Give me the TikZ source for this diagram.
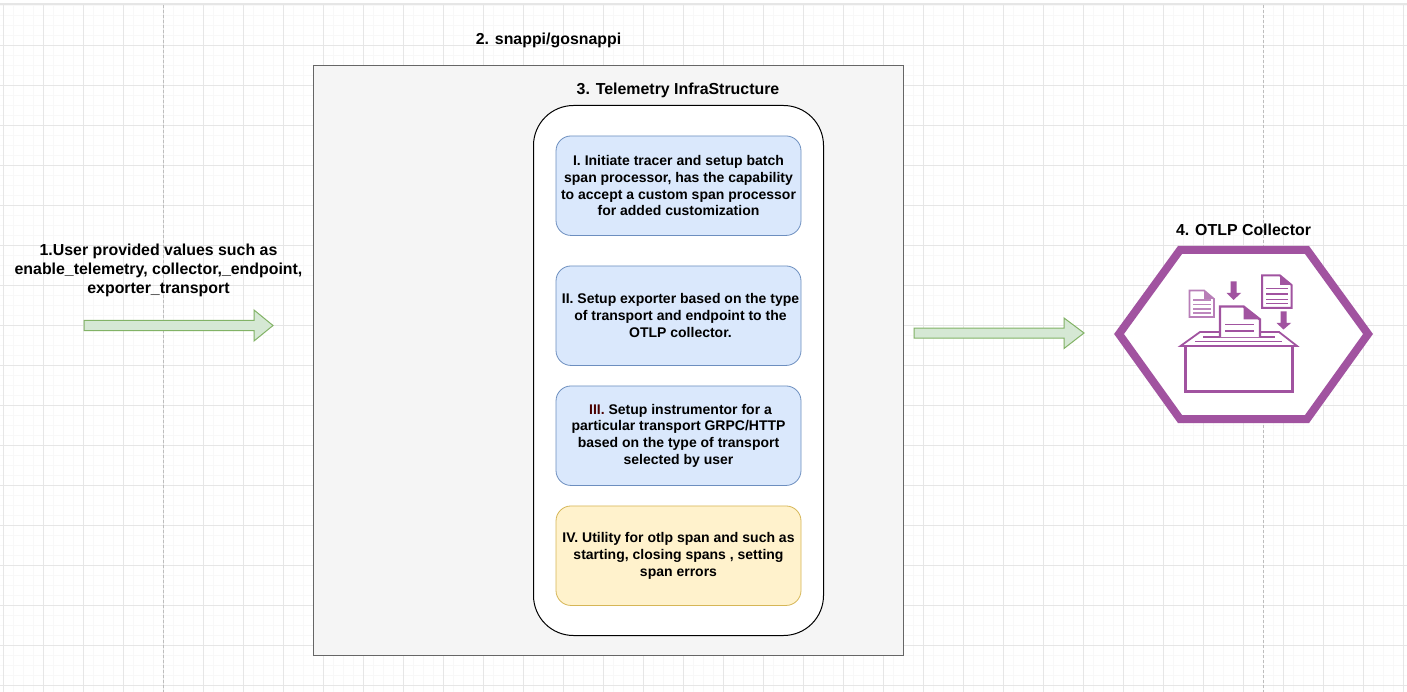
\documentclass[tikz,border=0pt]{standalone}
\usepackage{fontspec}
\setmainfont{Liberation Sans}
\usetikzlibrary{calc}
\definecolor{gridmaj}{HTML}{E6E6E6}
\definecolor{gridmin}{HTML}{F8F8F8}
\definecolor{dashgray}{HTML}{BDBDBD}
\definecolor{outerfill}{HTML}{F5F5F5}
\definecolor{outerline}{HTML}{666666}
\definecolor{bluefill}{HTML}{DAE8FC}
\definecolor{blueline}{HTML}{6C8EBF}
\definecolor{yelfill}{HTML}{FFF2CC}
\definecolor{yelline}{HTML}{D6B656}
\definecolor{grnfill}{HTML}{D5E8D4}
\definecolor{grnline}{HTML}{82B366}
\definecolor{purp}{HTML}{A153A0}
\definecolor{maroon}{HTML}{4A0000}
\tikzset{
  lbl/.style={font=\bfseries\fontsize{15.9}{19}\selectfont,align=center,inner sep=0pt,text=black},
  boxlbl/.style={font=\bfseries\fontsize{14}{16.8}\selectfont,align=center,inner sep=0pt,text=black},
  stepbox/.style={boxlbl,draw=blueline,fill=bluefill,rounded corners=15pt,minimum width=245pt,minimum height=99.5pt,line width=.8pt},
  utilbox/.style={stepbox,draw=yelline,fill=yelfill},
  blockarrow/.style={draw=grnline,fill=grnfill,line width=1pt,line join=miter},
  ic/.style={draw=purp,line width=2.4pt,fill=white,line join=miter},
  icl/.style={draw=purp,line width=1.2pt},
}
\begin{document}
\begin{tikzpicture}[x=1pt,y=-1pt]
\useasboundingbox (0,0) rectangle (1407,692);
\fill[white] (0,0) rectangle (1407,692);
% top bar
\fill[gridmaj] (0,3) rectangle (1407,5);
% grid
\foreach \k in {0,...,140}{\draw[gridmin,line width=.8pt] ({3.5+10*\k},5) -- ({3.5+10*\k},692);}
\foreach \k in {0,...,68}{\draw[gridmin,line width=.8pt] (0,{5+10*\k}) -- (1407,{5+10*\k});}
\foreach \k in {0,...,35}{\draw[gridmaj,line width=.8pt] ({3.5+40*\k},5) -- ({3.5+40*\k},692);}
\foreach \k in {1,...,17}{\draw[gridmaj,line width=.8pt] (0,{5+40*\k}) -- (1407,{5+40*\k});}
\draw[dashgray,line width=.8pt,dash pattern=on 3pt off 2pt] (163.5,5) -- (163.5,692);
\draw[dashgray,line width=.8pt,dash pattern=on 3pt off 2pt] (1263.5,5) -- (1263.5,692);
% containers
\node[draw=outerline,fill=outerfill,line width=.9pt,minimum width=590pt,minimum height=590pt,inner sep=0pt] (infra) at (608.5,360.5) {};
\node[draw=black,fill=white,line width=1pt,rounded corners=40pt,minimum width=290pt,minimum height=530pt,inner sep=0pt] (telemetry) at (678.5,370.5) {};
\node[stepbox] (s1) at (678.5,185.7) {I. Initiate tracer and setup batch\\span processor, has the capability\\to accept a custom span processor\\for added customization};
\node[stepbox] (s2) at (678.5,315.7) {\hspace*{4pt}II. Setup exporter based on the type\\\hspace*{4pt}of transport and endpoint to the\\\hspace*{4pt}OTLP collector.};
\node[stepbox] (s3) at (678.5,435.7) {\hspace*{4pt}\textcolor{maroon}{III.} Setup instrumentor for a\\particular transport GRPC/HTTP\\based on the type of transport\\selected by user};
\node[utilbox] (s4) at (678.5,555.7) {IV. Utility for otlp span and such as\\starting, closing spans , setting\\span errors};
% labels
\node[lbl] (l1) at (158.5,270.5) {1.User provided values such as\\enable\_telemetry, collector,\_endpoint,\\exporter\_transport};
\node[lbl] (l2) at (548.5,40) {2. snappi/gosnappi};
\node[lbl] (l3) at (678,90) {3. Telemetry InfraStructure};
\node[lbl] (l4) at (1243.5,230) {4. OTLP Collector};
% arrows
\draw[blockarrow] (84,320.5) -- (254,320.5) -- (254,310) -- (273,325.5) -- (254,341) -- (254,330.5) -- (84,330.5) -- cycle;
\draw[blockarrow] (914,328) -- (1064,328) -- (1064,318) -- (1084,333) -- (1064,348.5) -- (1064,338) -- (914,338) -- cycle;
% hexagon
\draw[purp,line width=8pt,line join=miter,fill=white] (1119,334) -- (1180,250) -- (1307,250) -- (1368,334) -- (1307,419) -- (1180,419) -- cycle;
% icon: box
\draw[ic] (1185.5,346) rectangle (1292.5,391.5);
\draw[ic,line width=1.8pt] (1180.5,346) -- (1200,332) -- (1279,332) -- (1297,346) -- cycle;
\draw[icl] (1195,341.5) -- (1282,341.5);
\draw[icl] (1203,337) -- (1275,337);
% centre sheet
\draw[ic] (1220,337) -- (1220,306.5) -- (1243.5,306.5) -- (1260,319.5) -- (1260,337);
\fill[purp] (1243.5,306.5) -- (1260,319.5) -- (1243.5,319.5) -- cycle;
\draw[icl] (1225,324.5) -- (1254,324.5);
\draw[icl] (1225,331) -- (1254,331);
% left sheet
\draw[ic,line width=1.8pt,draw=purp!75] (1189.5,290.5) -- (1204,290.5) -- (1214,299) -- (1214,317) -- (1189.5,317) -- cycle;
\fill[purp!75] (1204,290.5) -- (1214,299) -- (1204,299) -- cycle;
\foreach \yy in {300,304.5,309,313}{\draw[icl,draw=purp!70] (1193,\yy) -- (1211,\yy);}
% right sheet
\draw[ic,line width=2pt] (1262,275.5) -- (1280,275.5) -- (1291.5,285) -- (1291.5,308) -- (1262,308) -- cycle;
\fill[purp] (1280,275.5) -- (1291.5,285) -- (1280,285) -- cycle;
\foreach \yy in {288.5,294,299.5,303.5}{\draw[icl] (1266,\yy) -- (1287.5,\yy);}
% small arrows
\fill[purp] (1230.5,281.5) -- (1236.5,281.5) -- (1236.5,293) -- (1241,293) -- (1233.5,300) -- (1226.5,293) -- (1230.5,293) -- cycle;
\fill[purp] (1280.5,311.5) -- (1286.5,311.5) -- (1286.5,323) -- (1291,323) -- (1283.5,329.5) -- (1276.5,323) -- (1280.5,323) -- cycle;
\end{tikzpicture}
\end{document}
